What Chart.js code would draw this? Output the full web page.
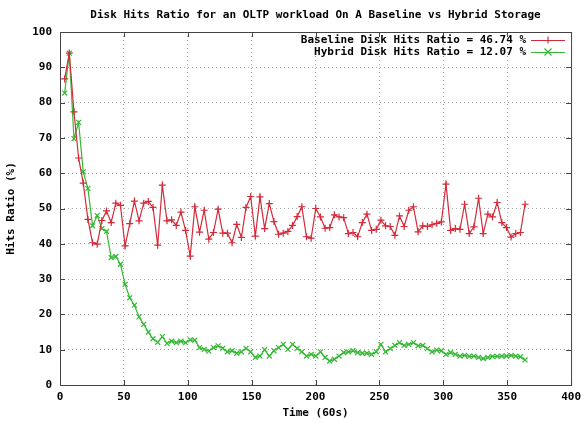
<!DOCTYPE html>
<html>
<head>
<meta charset="utf-8">
<script src="https://cdn.jsdelivr.net/npm/chart.js@4.4.1/dist/chart.umd.min.js"></script>
<style>
    html, body { margin: 0; padding: 0; background: #fff; }
    #wrap { width: 587px; height: 423px; }
</style>
</head>
<body>
<div id="wrap"><canvas id="hits-chart" width="587" height="423"></canvas></div>
<script>
const chartTitle = 'Disk Hits Ratio for an OLTP workload On A Baseline vs Hybrid Storage';
const seriesLabels = ['Baseline Disk Hits Ratio = 46.74 %', 'Hybrid Disk Hits Ratio = 12.07 %'];
const sampleStep = 3.64; // time between samples, in 60s units

const baselineHits = [
    86.7, 94.0, 77.4, 64.3, 57.2, 46.9, 40.3, 39.9, 46.6, 49.3,
    46.0, 51.5, 50.9, 39.4, 45.7, 52.1, 46.5, 51.5, 52.0, 50.3,
    39.6, 56.6, 46.5, 46.8, 45.2, 49.0, 43.8, 36.5, 50.5, 43.3,
    49.5, 41.3, 43.2, 49.8, 43.0, 43.0, 40.3, 45.5, 41.8, 50.3,
    53.4, 42.2, 53.3, 44.3, 51.4, 46.3, 42.7, 43.0, 43.5, 45.2,
    47.7, 50.5, 42.0, 41.6, 50.0, 47.6, 44.4, 44.6, 48.2, 47.6,
    47.4, 42.9, 43.2, 42.0, 46.0, 48.4, 43.8, 44.1, 46.7, 45.1,
    44.9, 42.4, 47.9, 44.9, 49.5, 50.5, 43.4, 45.1, 44.9, 45.4,
    45.8, 46.2, 56.9, 43.8, 44.3, 44.1, 51.2, 42.9, 44.8, 52.9,
    42.9, 48.4, 47.6, 51.7, 46.0, 44.6, 41.9, 42.9, 43.2, 51.2
];

const hybridHits = [
    82.7, 94.0, 69.8, 74.4, 60.4, 55.7, 45.1, 48.0, 44.3, 43.5,
    36.1, 36.4, 34.2, 28.5, 24.7, 22.6, 19.3, 17.2, 15.0, 13.1,
    12.1, 13.7, 11.8, 12.4, 12.0, 12.4, 12.0, 12.8, 12.7, 10.6,
    10.1, 9.6, 10.6, 11.1, 10.4, 9.4, 9.7, 9.0, 9.4, 10.4,
    9.4, 7.8, 8.2, 10.0, 8.2, 9.7, 10.6, 11.5, 10.1, 11.5,
    10.4, 9.4, 8.2, 8.7, 8.2, 9.4, 7.8, 6.8, 7.3, 8.2,
    9.2, 9.4, 9.7, 9.2, 9.0, 9.0, 8.7, 9.4, 11.5, 9.4,
    10.3, 11.2, 12.0, 11.2, 11.5, 12.0, 11.1, 11.2, 10.3, 9.4,
    9.9, 9.7, 8.7, 9.2, 8.7, 8.2, 8.4, 8.1, 8.2, 7.8,
    7.5, 7.8, 8.1, 8.1, 8.2, 8.2, 8.4, 8.2, 8.0, 7.1
];

const xTicks = [0, 50, 100, 150, 200, 250, 300, 350, 400];
const yTicks = [0, 10, 20, 30, 40, 50, 60, 70, 80, 90, 100];

const baseFont = { family: '"DejaVu Sans Mono", monospace', size: 11, weight: 'bold' };
const redColor = '#d42a3a';
const greenColor = '#33b833';

function toPoints(values) {
    return values.map(function (v, i) {
        return { x: (i + 1) * sampleStep, y: v };
    });
}

// frame, inward tick marks, title and legend (gnuplot look)
const gnuplotDecor = {
    id: 'gnuplotDecor',
    afterDraw: function (chart) {
        const ctx = chart.ctx;
        const area = chart.chartArea;
        const xs = chart.scales.x;
        const ys = chart.scales.y;
        ctx.save();

        ctx.strokeStyle = '#444';
        ctx.lineWidth = 1;
        ctx.strokeRect(area.left + 0.5, area.top + 0.5, area.right - area.left, area.bottom - area.top);

        ctx.beginPath();
        xTicks.forEach(function (t) {
            const px = Math.round(xs.getPixelForValue(t)) + 0.5;
            ctx.moveTo(px, area.bottom); ctx.lineTo(px, area.bottom - 5);
            ctx.moveTo(px, area.top); ctx.lineTo(px, area.top + 5);
        });
        yTicks.forEach(function (t) {
            const py = Math.round(ys.getPixelForValue(t)) + 0.5;
            ctx.moveTo(area.left, py); ctx.lineTo(area.left + 5, py);
            ctx.moveTo(area.right, py); ctx.lineTo(area.right - 5, py);
        });
        ctx.stroke();

        const fontStr = 'bold 11px "DejaVu Sans Mono", monospace';
        ctx.font = fontStr;
        ctx.fillStyle = '#000';
        ctx.textAlign = 'center';
        ctx.textBaseline = 'middle';
        ctx.fillText(chartTitle, (area.left + area.right) / 2, 15);

        // legend, text right aligned with sample line to its right
        chart.data.datasets.forEach(function (ds, i) {
            const y = 40 + i * 12;
            ctx.textAlign = 'right';
            ctx.fillStyle = '#000';
            ctx.fillText(ds.label, 526, y);
            ctx.strokeStyle = ds.borderColor;
            ctx.lineWidth = 1.2;
            ctx.beginPath();
            ctx.moveTo(531, y + 0.5); ctx.lineTo(565, y + 0.5);
            const mx = 548, r = 3.5;
            if (ds.pointStyle === 'cross') {
                ctx.moveTo(mx - r, y + 0.5); ctx.lineTo(mx + r, y + 0.5);
                ctx.moveTo(mx, y - r); ctx.lineTo(mx, y + r);
            } else {
                ctx.moveTo(mx - r, y - r); ctx.lineTo(mx + r, y + r);
                ctx.moveTo(mx - r, y + r); ctx.lineTo(mx + r, y - r);
            }
            ctx.stroke();
        });
        ctx.restore();
    }
};

const ctx = document.getElementById('hits-chart').getContext('2d');
const hitsChart = new Chart(ctx, {
    type: 'line',
    data: {
        datasets: [{
            label: seriesLabels[0],
            data: toPoints(baselineHits),
            borderColor: redColor,
            backgroundColor: redColor,
            borderWidth: 1.2,
            pointStyle: 'cross',
            pointRadius: 3.5,
            pointBorderWidth: 1.2,
            tension: 0,
            fill: false
        }, {
            label: seriesLabels[1],
            data: toPoints(hybridHits),
            borderColor: greenColor,
            backgroundColor: greenColor,
            borderWidth: 1.2,
            pointStyle: 'crossRot',
            pointRadius: 3.5,
            pointBorderWidth: 1.2,
            tension: 0,
            fill: false
        }]
    },
    options: {
        responsive: false,
        animation: false,
        layout: { padding: { top: 32, right: 13, left: 0, bottom: 0 } },
        plugins: {
            legend: { display: false },
            title: { display: false },
            tooltip: { enabled: false }
        },
        scales: {
            x: {
                type: 'linear',
                min: 0,
                max: 400,
                afterBuildTicks: function (scale) {
                    scale.ticks = xTicks.map(function (v) { return { value: v }; });
                },
                afterFit: function (scale) { scale.height = 38; },
                grid: { color: '#a8a8a8', drawTicks: false },
                border: { display: false, dash: [1, 3] },
                ticks: { font: baseFont, color: '#000', padding: 6, maxRotation: 0 },
                title: { display: true, text: 'Time (60s)', font: baseFont, color: '#000', padding: { top: 0, bottom: 3 } }
            },
            y: {
                min: 0,
                max: 100,
                afterBuildTicks: function (scale) {
                    scale.ticks = yTicks.map(function (v) { return { value: v }; });
                },
                afterFit: function (scale) { scale.width = 60; },
                grid: { color: '#a8a8a8', drawTicks: false },
                border: { display: false, dash: [1, 3] },
                ticks: { font: baseFont, color: '#000', padding: 8 },
                title: { display: true, text: 'Hits Ratio (%)', font: baseFont, color: '#000', padding: { top: 5, bottom: 0 } }
            }
        }
    },
    plugins: [gnuplotDecor]
});
</script>
</body>
</html>
